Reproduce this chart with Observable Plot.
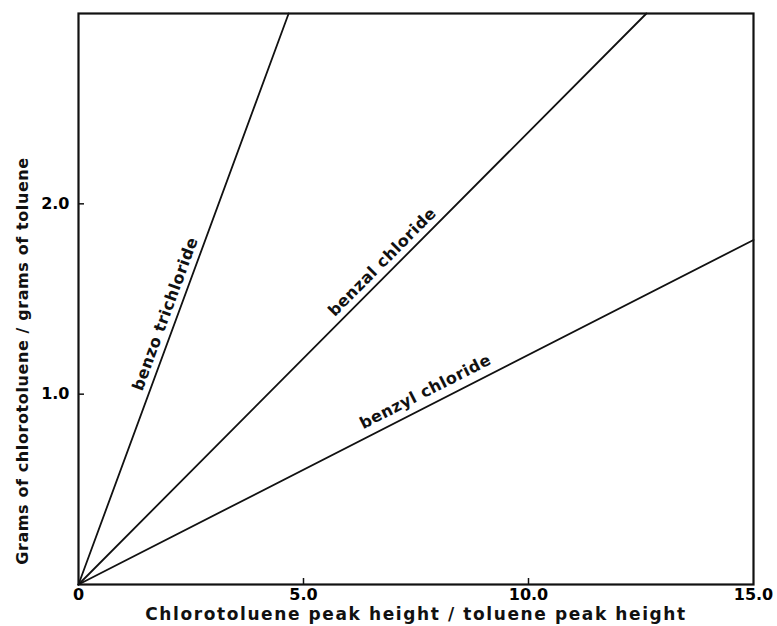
<!DOCTYPE html>
<html>
<head>
<meta charset="utf-8">
<script src="https://cdn.jsdelivr.net/npm/d3@7"></script>
<script src="https://cdn.jsdelivr.net/npm/@observablehq/plot@0.6"></script>
<style>
  html, body { margin: 0; padding: 0; background: #fff; }
  svg { font-family: "DejaVu Sans", sans-serif; }
</style>
</head>
<body>
<div id="chart"></div>
<script>
// Series: each line runs from the origin to its end point
const seriesNames = ["benzo trichloride", "benzal chloride", "benzyl chloride"];
const endX = [4.67, 12.62, 15.0];
const endY = [3.0, 3.0, 1.81];
// Label placement (x along each line where label is centred)
const labelX = [2.18, 6.94, 7.85];

const xTickMarks = [5, 10];
const xTickLabels = [0, 5, 10, 15];
const yTickMarks = [1, 2];
const yTickLabels = [1, 2];

const xTitle = "Chlorotoluene peak height / toluene peak height";
const yTitle = "Grams of chlorotoluene / grams of toluene";

const lines = [];
seriesNames.forEach((name, i) => {
  lines.push({name, x: 0, y: 0});
  lines.push({name, x: endX[i], y: endY[i]});
});

const W = 777, H = 626;
const mL = 78, mR = 24, mT = 13, mB = 42;
const pxPerX = (W - mL - mR) / 15;
const pxPerY = (H - mT - mB) / 3;
const tickLen = 6;

const labelOffsets = [12, 12, 14];
const labels = seriesNames.map((name, i) => {
  const slope = endY[i] / endX[i];
  const rad = Math.atan(slope * pxPerY / pxPerX);
  const ang = rad * 180 / Math.PI;
  const off = labelOffsets[i];
  return {name, x: labelX[i], y: slope * labelX[i], rotate: -ang,
          dx: -Math.sin(rad) * off, dy: -Math.cos(rad) * off};
});

const fmt = d => d === 0 ? "0" : d.toFixed(1);

const chart = Plot.plot({
  width: W, height: H,
  marginLeft: mL, marginRight: mR, marginTop: mT, marginBottom: mB,
  x: {domain: [0, 15]},
  y: {domain: [0, 3]},
  style: {fontFamily: "DejaVu Sans, sans-serif", color: "#000", background: "#fff"},
  marks: [
    Plot.line(lines, {x: "x", y: "y", z: "name", stroke: "#111", strokeWidth: 1.8}),
    ...labels.map(l => Plot.text([l], {x: "x", y: "y", text: "name", rotate: l.rotate,
      dx: l.dx, dy: l.dy, fontSize: 16, fontWeight: "bold", fill: "#111"})),
    Plot.frame({stroke: "#111", strokeWidth: 2.2}),
    Plot.ruleX(xTickMarks, {y1: 0, y2: tickLen / pxPerY, stroke: "#111", strokeWidth: 1.5}),
    Plot.ruleY(yTickMarks, {x1: 0, x2: tickLen / pxPerX, stroke: "#111", strokeWidth: 1.5}),
    Plot.axisX({ticks: xTickLabels, tickSize: 0, tickPadding: 4, tickFormat: fmt, label: null,
      fontSize: 16, fontWeight: "bold"}),
    Plot.axisY({ticks: yTickLabels, tickSize: 0, tickPadding: 9, tickFormat: fmt, label: null,
      fontSize: 16, fontWeight: "bold"}),
    Plot.text([xTitle], {frameAnchor: "bottom", dy: 35, fontSize: 17, fontWeight: "bold",
      text: d => d, fill: "#111", textAnchor: "middle"}),
    Plot.text([yTitle], {frameAnchor: "left", dx: -56, dy: 62, rotate: -90, fontSize: 16,
      fontWeight: "bold", text: d => d, fill: "#111", textAnchor: "middle"})
  ]
});
// letter spacing for the wide, geometric lettering of the original
const spacing = new Map([[xTitle, 1.6], [yTitle, 0.6]]);
seriesNames.forEach(n => spacing.set(n, 0.5));
d3.select(chart).selectAll("text").each(function() {
  const s = spacing.get(this.textContent);
  if (s != null) this.setAttribute("letter-spacing", s);
});
document.getElementById("chart").appendChild(chart);
</script>
</body>
</html>
